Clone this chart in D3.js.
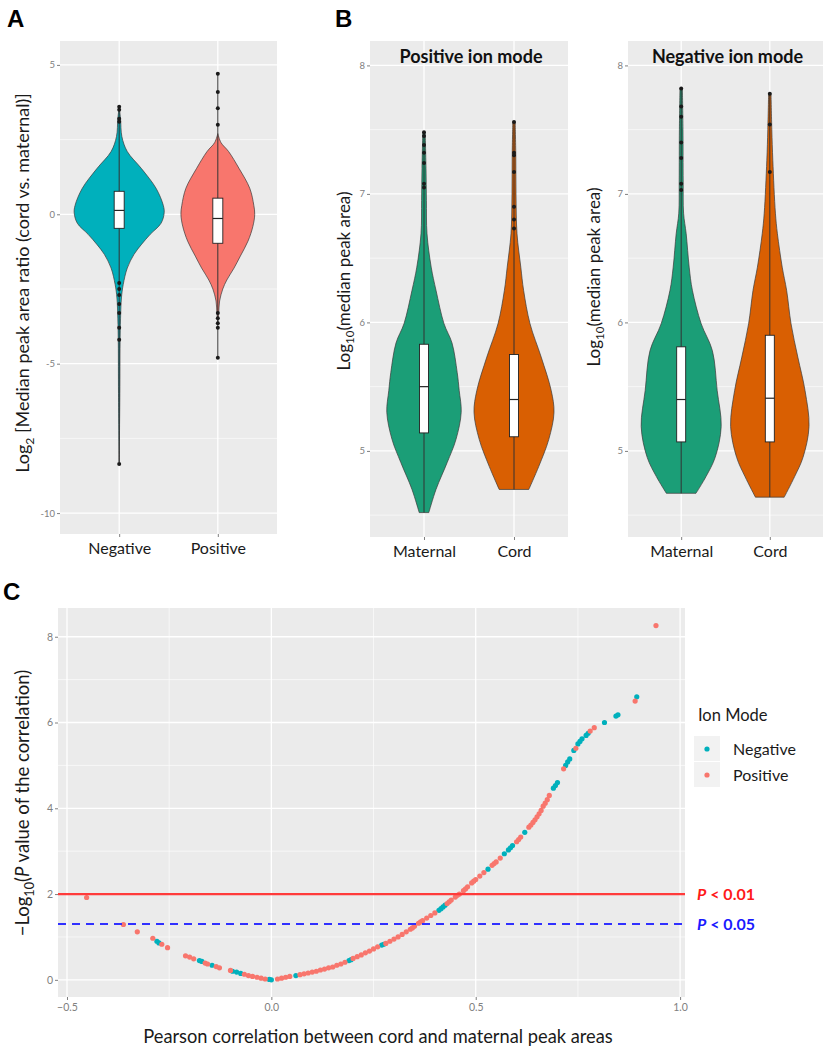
<!DOCTYPE html>
<html><head><meta charset="utf-8">
<script src="https://cdn.jsdelivr.net/npm/d3@7"></script>
<style>body{margin:0;background:#fff}svg{display:block;font-family:Lato,"Open Sans",sans-serif}</style>
</head><body><svg id="c" width="830" height="1050"></svg>
<script>
// ---------- DATA ----------
// Panel A
const aCats = ["Negative", "Positive"];
const aDensNeg = [[-8.3,0],[-6,0.015],[-4.3,0.02],[-3.5,0.03],[-2.8,0.05],[-2.35,0.09],[-1.8,0.18],[-1.34,0.33],[-1.0,0.5],[-0.67,0.69],[-0.3,0.93],[0.05,1.0],[0.3,0.98],[0.87,0.82],[1.54,0.49],[2.1,0.18],[2.6,0.06],[3.2,0.03],[3.6,0]];
const aDensPos = [[-3.6,0],[-3.3,0.02],[-2.9,0.04],[-2.5,0.11],[-2.2,0.2],[-1.8,0.36],[-1.4,0.5],[-0.9,0.67],[-0.4,0.78],[0,0.82],[0.3,0.8],[0.87,0.71],[1.54,0.47],[2.1,0.24],[2.4,0.07],[2.7,0]];
const aQ1 = [-0.47, -0.97], aMed = [0.13, -0.14], aQ3 = [0.77, 0.54];
const aLo = [-8.3, -4.8], aHi = [3.6, 4.7];
const aOutNeg = [3.6, 3.5, 3.2, 3.1, -2.3, -2.5, -2.7, -3.0, -3.3, -3.8, -4.2, -8.36];
const aOutPos = [4.7, 4.09, 3.55, 3.0, -3.3, -3.48, -3.65, -3.8, -4.8];
const aTicks = [5, 0, -5, -10];

// Panel B
const bCats = ["Maternal", "Cord"];
const bTitles = ["Positive ion mode", "Negative ion mode"];
const bDensPosMat = [[4.52,0.12],[4.70,0.30],[4.91,0.58],[5.09,0.80],[5.30,0.93],[5.47,0.88],[5.61,0.83],[5.84,0.70],[5.99,0.50],[6.25,0.30],[6.43,0.18],[6.69,0.075],[6.95,0.06],[7.2,0.05],[7.48,0.03]];
const bDensPosCord = [[4.70,0.37],[4.88,0.62],[5.09,0.87],[5.30,1.0],[5.47,0.93],[5.73,0.68],[5.99,0.40],[6.25,0.24],[6.43,0.17],[6.69,0.075],[7.0,0.05],[7.3,0.045],[7.56,0.03]];
const bDensNegMat = [[4.67,0.37],[4.80,0.62],[4.95,0.85],[5.19,1.0],[5.47,0.9],[5.78,0.78],[5.99,0.5],[6.25,0.28],[6.43,0.2],[6.69,0.125],[6.85,0.06],[7.1,0.05],[7.5,0.045],[7.82,0.03]];
const bDensNegCord = [[4.64,0.36],[4.80,0.62],[4.95,0.83],[5.19,0.98],[5.47,0.88],[5.73,0.7],[5.99,0.53],[6.25,0.42],[6.43,0.31],[6.69,0.19],[6.85,0.14],[7.26,0.075],[7.5,0.05],[7.78,0.03]];
const bQ1 = [[5.14, 5.11], [5.07, 5.07]];
const bMed = [[5.50, 5.40], [5.40, 5.41]];
const bQ3 = [[5.83, 5.75], [5.81, 5.90]];
const bLo = [[4.52, 4.70], [4.67, 4.64]];
const bHi = [[7.48, 7.56], [7.82, 7.78]];
const bOutPosMat = [7.48, 7.45, 7.38, 7.32, 7.24, 7.08, 7.05];
const bOutPosCord = [7.56, 7.32, 7.30, 7.17, 6.90, 6.80, 6.73];
const bOutNegMat = [7.82, 7.68, 7.60, 7.40, 7.28, 7.08, 7.03];
const bOutNegCord = [7.78, 7.54, 7.17];
const bTicks = [5, 6, 7, 8];

// Panel C
const cNeg = [[-0.28,0.9],[-0.275,0.86],[-0.176,0.45],[-0.17,0.43],[-0.145,0.34],[-0.095,0.2],[-0.085,0.18],[-0.075,0.15],[-0.005,0.01],[0.0,0.0],[0.06,0.1],[0.19,0.45],[0.195,0.47],[0.27,0.81],[0.275,0.83],[0.41,1.62],[0.415,1.66],[0.42,1.7],[0.425,1.74],[0.53,2.58],[0.57,2.94],[0.58,3.03],[0.585,3.08],[0.59,3.13],[0.62,3.44],[0.69,4.47],[0.695,4.53],[0.70,4.6],[0.72,5.0],[0.725,5.08],[0.73,5.15],[0.74,5.35],[0.75,5.5],[0.755,5.56],[0.76,5.62],[0.77,5.7],[0.775,5.75],[0.815,6.0],[0.843,6.15],[0.848,6.18],[0.894,6.6]];
const cPos = [[-0.452,1.92],[-0.362,1.29],[-0.328,1.12],[-0.29,0.97],[-0.268,0.83],[-0.254,0.75],[-0.21,0.56],[-0.2,0.53],[-0.19,0.49],[-0.162,0.39],[-0.156,0.37],[-0.135,0.31],[-0.127,0.28],[-0.1,0.22],[-0.066,0.13],[-0.056,0.1],[-0.046,0.08],[-0.035,0.06],[-0.025,0.04],[-0.015,0.02],[0.015,0.02],[0.025,0.04],[0.035,0.06],[0.045,0.08],[0.07,0.12],[0.08,0.14],[0.09,0.16],[0.1,0.18],[0.11,0.2],[0.12,0.23],[0.13,0.25],[0.14,0.28],[0.15,0.3],[0.16,0.34],[0.17,0.37],[0.18,0.41],[0.2,0.5],[0.21,0.54],[0.22,0.58],[0.23,0.63],[0.24,0.67],[0.25,0.72],[0.26,0.77],[0.28,0.85],[0.29,0.9],[0.30,0.95],[0.31,1.0],[0.32,1.06],[0.33,1.12],[0.34,1.18],[0.345,1.21],[0.35,1.25],[0.36,1.32],[0.365,1.35],[0.37,1.38],[0.38,1.44],[0.39,1.5],[0.40,1.56],[0.43,1.78],[0.435,1.82],[0.44,1.86],[0.45,1.93],[0.455,1.97],[0.46,2.0],[0.47,2.08],[0.475,2.12],[0.48,2.17],[0.49,2.26],[0.495,2.3],[0.50,2.34],[0.51,2.42],[0.52,2.5],[0.54,2.67],[0.545,2.71],[0.55,2.75],[0.56,2.84],[0.60,3.22],[0.605,3.27],[0.61,3.33],[0.63,3.56],[0.635,3.61],[0.64,3.67],[0.645,3.73],[0.65,3.8],[0.655,3.87],[0.66,3.95],[0.665,4.05],[0.67,4.12],[0.675,4.2],[0.68,4.3],[0.715,4.92],[0.745,5.4],[0.78,5.8],[0.79,5.88],[0.89,6.5],[0.941,8.26]];
const cXTicks = [-0.5, 0.0, 0.5, 1.0];
const cYTicks = [0, 2, 4, 6, 8];
const cThresh = [2, 1.301];
const cLegend = ["Negative", "Positive"];

// ---------- STYLE ----------
const TEAL = "#00B0BC", SALMON = "#F8766D", GREEN = "#1B9E77", ORANGE = "#D95F02";
const BG = "#EBEBEB", TICKC = "#808080", TXT = "#1a1a1a";
const svg = d3.select("#c");

function panelBg(x0, x1, y0, y1) {
  svg.append("rect").attr("x", x0).attr("y", y0).attr("width", x1 - x0).attr("height", y1 - y0).attr("fill", BG);
}
function hGrid(y, x0, x1, vals, w) {
  vals.forEach(v => svg.append("line").attr("x1", x0).attr("x2", x1).attr("y1", y(v)).attr("y2", y(v)).attr("stroke", "#fff").attr("stroke-width", w));
}
function vGrid(x, y0, y1, vals, w) {
  vals.forEach(v => svg.append("line").attr("x1", x(v)).attr("x2", x(v)).attr("y1", y0).attr("y2", y1).attr("stroke", "#fff").attr("stroke-width", w));
}
function yAxis(y, x0, ticks, fmt, fs) {
  const g = svg.append("g").attr("transform", `translate(${x0},0)`);
  g.call(d3.axisLeft(y).tickValues(ticks).tickSize(3).tickPadding(2).tickFormat(fmt));
  g.select(".domain").remove();
  g.selectAll("line").attr("stroke", TICKC);
  g.selectAll("text").attr("fill", TICKC).attr("font-size", fs).attr("font-family", "Lato, sans-serif");
}
function xAxis(x, y0, ticks, fmt, fs, col, pad) {
  const g = svg.append("g").attr("transform", `translate(0,${y0})`);
  g.call(d3.axisBottom(x).tickValues(ticks).tickSize(3).tickPadding(pad).tickFormat(fmt));
  g.select(".domain").remove();
  g.selectAll("line").attr("stroke", TICKC);
  g.selectAll("text").attr("fill", col).attr("font-size", fs).attr("font-family", "Lato, sans-serif");
  return g;
}
function violin(y, cx, dens, wS, fill) {
  const area = d3.area().curve(d3.curveCatmullRom)
    .y(d => y(d[0])).x0(d => cx - wS(d[1])).x1(d => cx + wS(d[1]));
  svg.append("path").attr("d", area(dens)).attr("fill", fill).attr("stroke", "#3a3a3a").attr("stroke-width", 0.7);
}
function boxplot(y, cx, lo, hi, q1, med, q3, outs, bw) {
  svg.append("line").attr("x1", cx).attr("x2", cx).attr("y1", y(lo)).attr("y2", y(hi)).attr("stroke", "#333").attr("stroke-width", 1);
  svg.append("rect").attr("x", cx - bw / 2).attr("width", bw).attr("y", y(q3)).attr("height", y(q1) - y(q3))
    .attr("fill", "#fff").attr("stroke", "#222").attr("stroke-width", 0.9);
  svg.append("line").attr("x1", cx - bw / 2).attr("x2", cx + bw / 2).attr("y1", y(med)).attr("y2", y(med)).attr("stroke", "#222").attr("stroke-width", 1.2);
  outs.forEach(v => svg.append("circle").attr("cx", cx).attr("cy", y(v)).attr("r", 2).attr("fill", "#1a1a1a"));
}
function panelLetter(t, x, y) {
  svg.append("text").attr("x", x).attr("y", y).text(t).attr("font-family", "Liberation Sans, Arial, sans-serif")
    .attr("font-weight", "bold").attr("font-size", 24).attr("fill", "#000");
}
function subLabel(x, y, fs, parts) {
  const t = svg.append("text").attr("transform", `translate(${x},${y}) rotate(-90)`).attr("text-anchor", "middle")
    .attr("font-size", fs).attr("fill", TXT);
  parts.forEach(p => {
    const s = t.append("tspan").text(p.t);
    if (p.sub) s.attr("font-size", fs * 0.68).attr("dy", fs * 0.25);
    if (p.up) s.attr("dy", -fs * 0.25);
    if (p.it) s.attr("font-style", "italic");
  });
}

// ---------- PANEL A ----------
{
  const x0 = 60, x1 = 277, y0 = 41, y1 = 534;
  const x = d3.scaleLinear().domain([0.4, 2.6]).range([x0, x1]);
  const y = d3.scaleLinear().domain([-10.7, 5.8]).range([y1, y0]);
  const w = d3.scaleLinear().domain([0, 1]).range([0, 45]);
  panelBg(x0, x1, y0, y1);
  hGrid(y, x0, x1, [2.5, -2.5, -7.5], 0.6);
  hGrid(y, x0, x1, aTicks, 1.3);
  vGrid(x, y0, y1, [1, 2], 1.3);
  violin(y, x(1), aDensNeg, w, TEAL);
  violin(y, x(2), aDensPos, w, SALMON);
  boxplot(y, x(1), aLo[0], aHi[0], aQ1[0], aMed[0], aQ3[0], aOutNeg, 10);
  boxplot(y, x(2), aLo[1], aHi[1], aQ1[1], aMed[1], aQ3[1], aOutPos, 10);
  yAxis(y, x0, aTicks, d => d, 9.5);
  const xa = d3.scalePoint().domain(aCats).range([x(1), x(2)]);
  xAxis(xa, y1, aCats, d => d, 16, TXT, 6);
  subLabel(29, 283, 18, [{t: "Log"}, {t: "2", sub: true}, {t: " [Median peak area ratio (cord vs. maternal)]", up: true}]);
  panelLetter("A", 7, 27);
}

// ---------- PANEL B ----------
{
  const y0 = 41, y1 = 537;
  const y = d3.scaleLinear().domain([4.33, 8.19]).range([y1, y0]);
  const w = d3.scaleLinear().domain([0, 1]).range([0, 40]);
  const panels = [
    {x0: 370, x1: 568, dens: [bDensPosMat, bDensPosCord], outs: [bOutPosMat, bOutPosCord], labX: 350, labY: 281},
    {x0: 628, x1: 823, dens: [bDensNegMat, bDensNegCord], outs: [bOutNegMat, bOutNegCord], labX: 600, labY: 277}
  ];
  panels.forEach((p, i) => {
    const x = d3.scaleLinear().domain([0.4, 2.6]).range([p.x0, p.x1]);
    panelBg(p.x0, p.x1, y0, y1);
    hGrid(y, p.x0, p.x1, [4.5, 5.5, 6.5, 7.5], 0.6);
    hGrid(y, p.x0, p.x1, bTicks, 1.3);
    vGrid(x, y0, y1, [1, 2], 1.3);
    violin(y, x(1), p.dens[0], w, GREEN);
    violin(y, x(2), p.dens[1], w, ORANGE);
    [0, 1].forEach(j => boxplot(y, x(j + 1), bLo[i][j], bHi[i][j], bQ1[i][j], bMed[i][j], bQ3[i][j], p.outs[j], 9));
    yAxis(y, p.x0, bTicks, d => d, 9.5);
    const xa = d3.scalePoint().domain(bCats).range([x(1), x(2)]);
    xAxis(xa, y1, bCats, d => d, 16, TXT, 6);
    svg.append("text").attr("x", (p.x0 + p.x1) / 2 + 2).attr("y", 63).attr("text-anchor", "middle")
      .attr("font-weight", "bold").attr("font-size", 18).attr("fill", "#111").text(bTitles[i]);
    subLabel(p.labX, p.labY, 17, [{t: "Log"}, {t: "10", sub: true}, {t: "(median peak area)", up: true}]);
  });
  panelLetter("B", 335, 27);
}

// ---------- PANEL C ----------
{
  const x0 = 58, x1 = 685, y0 = 608, y1 = 997;
  const x = d3.scaleLinear().domain([-0.522, 1.012]).range([x0, x1]);
  const y = d3.scaleLinear().domain([-0.4, 8.67]).range([y1, y0]);
  panelBg(x0, x1, y0, y1);
  hGrid(y, x0, x1, [1, 3, 5, 7], 0.6);
  vGrid(x, y0, y1, [-0.25, 0.25, 0.75], 0.6);
  hGrid(y, x0, x1, cYTicks, 1.3);
  vGrid(x, y0, y1, cXTicks, 1.3);
  svg.append("g").selectAll("circle").data(cNeg).join("circle")
    .attr("cx", d => x(d[0])).attr("cy", d => y(d[1])).attr("r", 2.6).attr("fill", TEAL);
  svg.append("g").selectAll("circle").data(cPos).join("circle")
    .attr("cx", d => x(d[0])).attr("cy", d => y(d[1])).attr("r", 2.6).attr("fill", SALMON);
  svg.append("line").attr("x1", x0).attr("x2", x1).attr("y1", y(cThresh[0])).attr("y2", y(cThresh[0]))
    .attr("stroke", "#FF3B3B").attr("stroke-width", 2.2);
  svg.append("line").attr("x1", x0).attr("x2", x1).attr("y1", y(cThresh[1])).attr("y2", y(cThresh[1]))
    .attr("stroke", "#3030FF").attr("stroke-width", 2).attr("stroke-dasharray", "8,6");
  yAxis(y, x0, cYTicks, d => d, 10.5);
  xAxis(x, y1, cXTicks, d3.format(".1f"), 10.5, TICKC, 4);
  [["#FF1A1A", "< 0.01", cThresh[0]], ["#1A1AFF", "< 0.05", cThresh[1]]].forEach(([col, s, v]) => {
    const t = svg.append("text").attr("x", 697).attr("y", y(v) + 5.5).attr("font-weight", "bold").attr("font-size", 16).attr("fill", col);
    t.append("tspan").text("P").attr("font-style", "italic");
    t.append("tspan").text(" " + s);
  });
  svg.append("text").attr("x", 378).attr("y", 1043).attr("text-anchor", "middle").attr("font-size", 18.3).attr("fill", TXT)
    .text("Pearson correlation between cord and maternal peak areas");
  subLabel(29, 803, 18.5, [{t: "\u2212Log"}, {t: "10", sub: true}, {t: "(", up: true}, {t: "P", it: true}, {t: " value of the correlation)"}]);
  // legend
  svg.append("text").attr("x", 698).attr("y", 721).attr("font-size", 16.5).attr("fill", TXT).text("Ion Mode");
  const lg = d3.scaleBand().domain(cLegend).range([736, 788]);
  const lc = d3.scaleOrdinal().domain(cLegend).range([TEAL, SALMON]);
  cLegend.forEach(k => {
    svg.append("rect").attr("x", 694).attr("y", lg(k)).attr("width", 26).attr("height", lg.bandwidth() - 1).attr("fill", "#F2F2F2");
    svg.append("circle").attr("cx", 707).attr("cy", lg(k) + lg.bandwidth() / 2).attr("r", 2.6).attr("fill", lc(k));
    svg.append("text").attr("x", 733).attr("y", lg(k) + lg.bandwidth() / 2 + 5.5).attr("font-size", 16).attr("fill", TXT).text(k);
  });
  panelLetter("C", 3, 600);
}
</script></body></html>
